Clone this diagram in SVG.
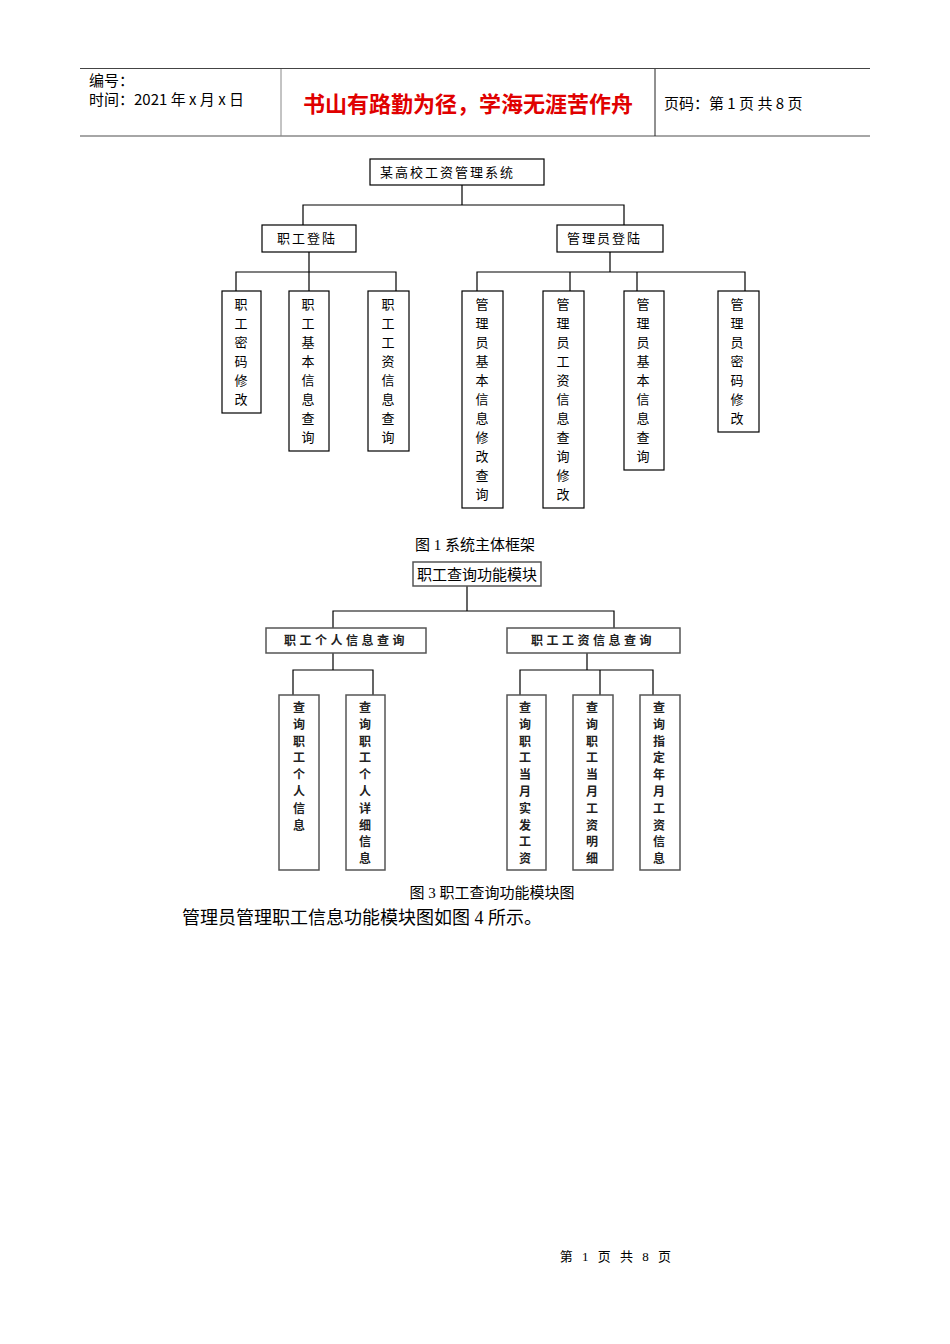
<svg xmlns="http://www.w3.org/2000/svg" width="950" height="1344" viewBox="0 0 950 1344">
<style>
.b{fill:#fff;stroke:#000;stroke-width:1.2}
.g{fill:#fff;stroke:#555;stroke-width:1.5}
.l{fill:none;stroke:#000;stroke-width:1.2}
.t{font-family:"Noto Sans CJK SC",sans-serif;font-size:13px;letter-spacing:2px;fill:#000}
.v{font-family:"Noto Sans CJK SC",sans-serif;font-size:13px;fill:#000;text-anchor:middle}
.w{font-family:"Noto Sans CJK SC",sans-serif;font-size:12px;font-weight:bold;fill:#222;text-anchor:middle}
.s{font-family:"Liberation Serif","Noto Sans CJK SC",serif;fill:#000}
</style>
<rect width="950" height="1344" fill="#fff"/>
<g id="header">
<line x1="80" y1="68.5" x2="870" y2="68.5" stroke="#444" stroke-width="1"/>
<line x1="80" y1="136" x2="870" y2="136" stroke="#888" stroke-width="1.5"/>
<line x1="281" y1="69" x2="281" y2="136" stroke="#888"/>
<line x1="655" y1="69" x2="655" y2="136" stroke="#222"/>
<text x="89" y="86" font-family="Noto Sans CJK SC,sans-serif" font-size="15">编号：</text>
<text x="89" y="105" font-family="Noto Sans CJK SC,sans-serif" font-size="15">时间：2021 年 x 月 x 日</text>
<text x="468" y="112" text-anchor="middle" font-family="Noto Sans CJK SC,sans-serif" font-size="22" font-weight="bold" fill="#e00000">书山有路勤为径，学海无涯苦作舟</text>
<text x="664" y="109" font-family="Noto Sans CJK SC,sans-serif" font-size="15">页码：第 1 页  共 8 页</text>
</g>
<g id="connectors">
<path class="l" d="M462 185V205M303 225V205H624V225M309 252V272M236 291V272H396V291M309 272V291M610 252V272M477 291V272H745V291M570 272V291M637 272V291"/>
<path class="l" stroke="#333" d="M467 586V611M333 628V611H614V628M333 653V670M293 695V670H373V695M587 653V670M520 695V670H653V695M600 670V695"/>
</g>
<g id="n_root"><rect class="b" x="370" y="159" width="174" height="26"/><text class="t" x="380" y="177" letter-spacing="2.5">某高校工资管理系统</text></g>
<g id="n_zg"><rect class="b" x="262" y="225" width="94" height="27"/><text class="t" x="277" y="243">职工登陆</text></g>
<g id="n_gly"><rect class="b" x="557" y="225" width="106" height="27"/><text class="t" x="567" y="243">管理员登陆</text></g>
<g id="n_a1"><rect class="b" x="222" y="291" width="39" height="122"/><text class="v" x="241" y="309"><tspan x="241">职</tspan><tspan x="241" dy="19">工</tspan><tspan x="241" dy="19">密</tspan><tspan x="241" dy="19">码</tspan><tspan x="241" dy="19">修</tspan><tspan x="241" dy="19">改</tspan></text></g>
<g id="n_a2"><rect class="b" x="289" y="291" width="40" height="160"/><text class="v" x="308" y="309"><tspan x="308">职</tspan><tspan x="308" dy="19">工</tspan><tspan x="308" dy="19">基</tspan><tspan x="308" dy="19">本</tspan><tspan x="308" dy="19">信</tspan><tspan x="308" dy="19">息</tspan><tspan x="308" dy="19">查</tspan><tspan x="308" dy="19">询</tspan></text></g>
<g id="n_a3"><rect class="b" x="368" y="291" width="41" height="160"/><text class="v" x="388" y="309"><tspan x="388">职</tspan><tspan x="388" dy="19">工</tspan><tspan x="388" dy="19">工</tspan><tspan x="388" dy="19">资</tspan><tspan x="388" dy="19">信</tspan><tspan x="388" dy="19">息</tspan><tspan x="388" dy="19">查</tspan><tspan x="388" dy="19">询</tspan></text></g>
<g id="n_b1"><rect class="b" x="462" y="291" width="41" height="217"/><text class="v" x="482" y="309"><tspan x="482">管</tspan><tspan x="482" dy="19">理</tspan><tspan x="482" dy="19">员</tspan><tspan x="482" dy="19">基</tspan><tspan x="482" dy="19">本</tspan><tspan x="482" dy="19">信</tspan><tspan x="482" dy="19">息</tspan><tspan x="482" dy="19">修</tspan><tspan x="482" dy="19">改</tspan><tspan x="482" dy="19">查</tspan><tspan x="482" dy="19">询</tspan></text></g>
<g id="n_b2"><rect class="b" x="543" y="291" width="41" height="217"/><text class="v" x="563" y="309"><tspan x="563">管</tspan><tspan x="563" dy="19">理</tspan><tspan x="563" dy="19">员</tspan><tspan x="563" dy="19">工</tspan><tspan x="563" dy="19">资</tspan><tspan x="563" dy="19">信</tspan><tspan x="563" dy="19">息</tspan><tspan x="563" dy="19">查</tspan><tspan x="563" dy="19">询</tspan><tspan x="563" dy="19">修</tspan><tspan x="563" dy="19">改</tspan></text></g>
<g id="n_b3"><rect class="b" x="624" y="291" width="40" height="179"/><text class="v" x="643" y="309"><tspan x="643">管</tspan><tspan x="643" dy="19">理</tspan><tspan x="643" dy="19">员</tspan><tspan x="643" dy="19">基</tspan><tspan x="643" dy="19">本</tspan><tspan x="643" dy="19">信</tspan><tspan x="643" dy="19">息</tspan><tspan x="643" dy="19">查</tspan><tspan x="643" dy="19">询</tspan></text></g>
<g id="n_b4"><rect class="b" x="718" y="291" width="41" height="141"/><text class="v" x="737" y="309"><tspan x="737">管</tspan><tspan x="737" dy="19">理</tspan><tspan x="737" dy="19">员</tspan><tspan x="737" dy="19">密</tspan><tspan x="737" dy="19">码</tspan><tspan x="737" dy="19">修</tspan><tspan x="737" dy="19">改</tspan></text></g>
<text class="s" x="475" y="550" font-size="15" text-anchor="middle">图 1 系统主体框架</text>
<g id="m_root"><rect class="g" x="413" y="562" width="128" height="24"/><text x="477" y="580" text-anchor="middle" font-family="Noto Sans CJK SC,sans-serif" font-size="15">职工查询功能模块</text></g>
<g id="m_a"><rect class="g" x="266" y="628" width="160" height="25"/><text class="w" x="346" y="645" letter-spacing="3.5">职工个人信息查询</text></g>
<g id="m_b"><rect class="g" x="507" y="628" width="173" height="25"/><text class="w" x="593" y="645" letter-spacing="3.5">职工工资信息查询</text></g>
<g id="m_a1"><rect class="g" x="279" y="695" width="40" height="175"/><text class="w" x="299" y="712"><tspan x="299">查</tspan><tspan x="299" dy="16.8">询</tspan><tspan x="299" dy="16.8">职</tspan><tspan x="299" dy="16.8">工</tspan><tspan x="299" dy="16.8">个</tspan><tspan x="299" dy="16.8">人</tspan><tspan x="299" dy="16.8">信</tspan><tspan x="299" dy="16.8">息</tspan></text></g>
<g id="m_a2"><rect class="g" x="346" y="695" width="39" height="175"/><text class="w" x="365" y="712"><tspan x="365">查</tspan><tspan x="365" dy="16.8">询</tspan><tspan x="365" dy="16.8">职</tspan><tspan x="365" dy="16.8">工</tspan><tspan x="365" dy="16.8">个</tspan><tspan x="365" dy="16.8">人</tspan><tspan x="365" dy="16.8">详</tspan><tspan x="365" dy="16.8">细</tspan><tspan x="365" dy="16.8">信</tspan><tspan x="365" dy="16.8">息</tspan></text></g>
<g id="m_b1"><rect class="g" x="507" y="695" width="39" height="175"/><text class="w" x="525" y="712"><tspan x="525">查</tspan><tspan x="525" dy="16.8">询</tspan><tspan x="525" dy="16.8">职</tspan><tspan x="525" dy="16.8">工</tspan><tspan x="525" dy="16.8">当</tspan><tspan x="525" dy="16.8">月</tspan><tspan x="525" dy="16.8">实</tspan><tspan x="525" dy="16.8">发</tspan><tspan x="525" dy="16.8">工</tspan><tspan x="525" dy="16.8">资</tspan></text></g>
<g id="m_b2"><rect class="g" x="573" y="695" width="40" height="175"/><text class="w" x="592" y="712"><tspan x="592">查</tspan><tspan x="592" dy="16.8">询</tspan><tspan x="592" dy="16.8">职</tspan><tspan x="592" dy="16.8">工</tspan><tspan x="592" dy="16.8">当</tspan><tspan x="592" dy="16.8">月</tspan><tspan x="592" dy="16.8">工</tspan><tspan x="592" dy="16.8">资</tspan><tspan x="592" dy="16.8">明</tspan><tspan x="592" dy="16.8">细</tspan></text></g>
<g id="m_b3"><rect class="g" x="640" y="695" width="40" height="175"/><text class="w" x="659" y="712"><tspan x="659">查</tspan><tspan x="659" dy="16.8">询</tspan><tspan x="659" dy="16.8">指</tspan><tspan x="659" dy="16.8">定</tspan><tspan x="659" dy="16.8">年</tspan><tspan x="659" dy="16.8">月</tspan><tspan x="659" dy="16.8">工</tspan><tspan x="659" dy="16.8">资</tspan><tspan x="659" dy="16.8">信</tspan><tspan x="659" dy="16.8">息</tspan></text></g>
<text class="s" x="492" y="898" font-size="15" text-anchor="middle">图 3 职工查询功能模块图</text>
<text class="s" x="182" y="924" font-size="18">管理员管理职工信息功能模块图如图 4 所示。</text>
<text class="s" x="617" y="1261" font-size="13" text-anchor="middle" letter-spacing="3">第 1 页 共 8 页</text>
</svg>
